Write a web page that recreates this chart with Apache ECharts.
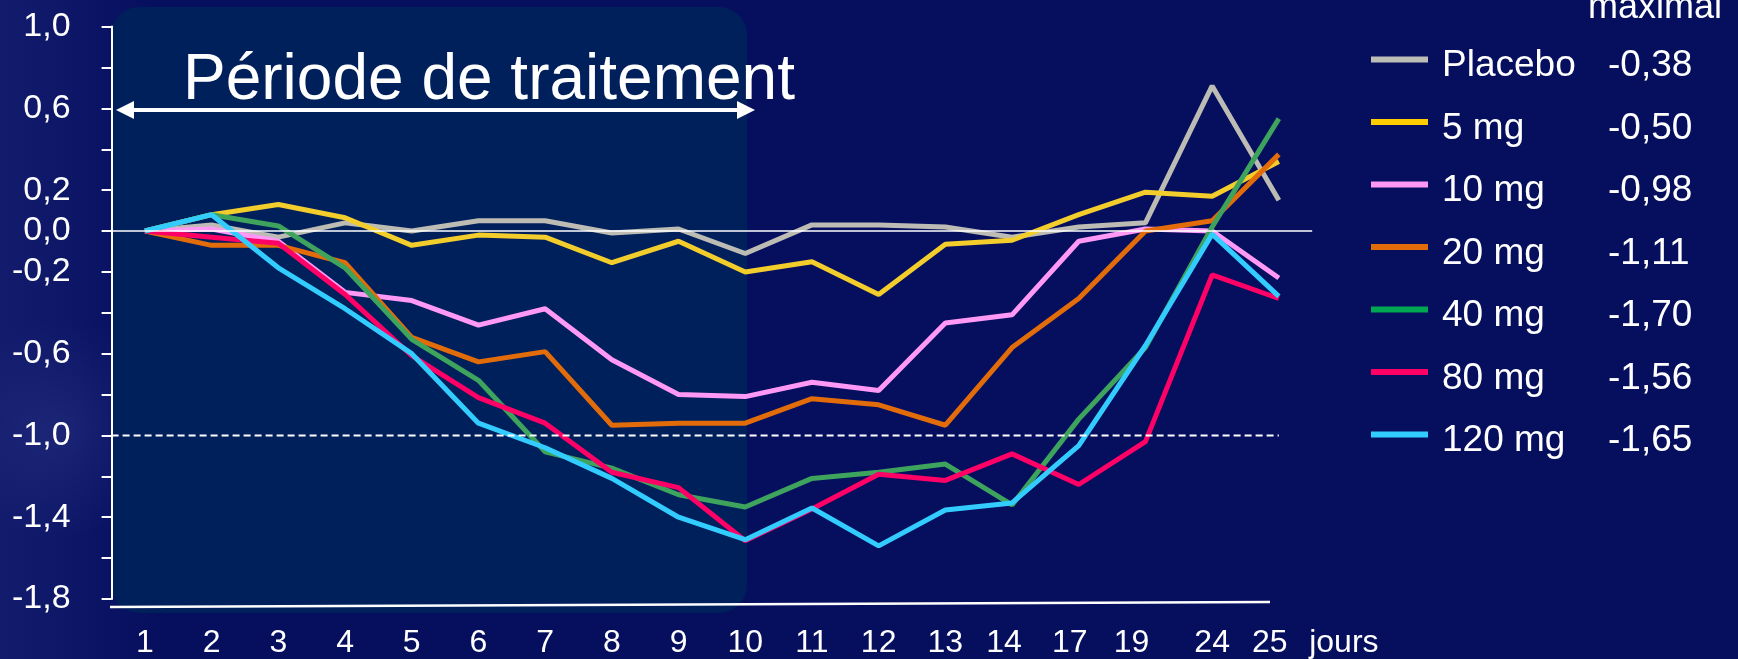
<!DOCTYPE html>
<html>
<head>
<meta charset="utf-8">
<title>Période de traitement</title>
<script src="https://cdn.jsdelivr.net/npm/echarts@6/dist/echarts.min.js"></script>
<style>
  html, body { margin: 0; padding: 0; background: #060f5e; }
  #chart { width: 1738px; height: 659px; }
</style>
</head>
<body>
<div id="chart"></div>
<script>
// jours de mesure (axe des catégories)
const days = ['1', '2', '3', '4', '5', '6', '7', '8', '9', '10', '11', '12', '13', '14', '17', '19', '24', '25'];

const seriesNames = ['Placebo', '5 mg', '10 mg', '20 mg', '40 mg', '80 mg', '120 mg'];
const maxEffect   = ['-0,38', '-0,50', '-0,98', '-1,11', '-1,70', '-1,56', '-1,65'];

const placebo = [0, 0.03, -0.03, 0.04, 0.00, 0.05, 0.05, -0.01, 0.01, -0.11, 0.03, 0.03, 0.02, -0.03, 0.02, 0.04, 0.71, 0.15];
const mg5     = [0, 0.08, 0.13, 0.065, -0.07, -0.02, -0.03, -0.155, -0.05, -0.20, -0.15, -0.31, -0.065, -0.045, 0.08, 0.19, 0.17, 0.34];
const mg10    = [0, 0.01, -0.05, -0.30, -0.34, -0.46, -0.38, -0.63, -0.80, -0.81, -0.74, -0.78, -0.45, -0.41, -0.05, 0.01, 0.00, -0.23];
const mg20    = [0, -0.07, -0.07, -0.155, -0.52, -0.64, -0.59, -0.95, -0.94, -0.94, -0.82, -0.85, -0.95, -0.57, -0.33, 0.00, 0.05, 0.375];
const mg40    = [0, 0.08, 0.025, -0.18, -0.53, -0.73, -1.08, -1.16, -1.29, -1.35, -1.21, -1.18, -1.14, -1.34, -0.92, -0.57, 0.02, 0.55];
const mg80    = [0, -0.03, -0.06, -0.31, -0.61, -0.815, -0.94, -1.18, -1.255, -1.515, -1.36, -1.19, -1.22, -1.09, -1.24, -1.03, -0.215, -0.33];
const mg120   = [0, 0.08, -0.18, -0.38, -0.60, -0.94, -1.06, -1.21, -1.40, -1.51, -1.355, -1.54, -1.365, -1.33, -1.05, -0.56, -0.015, -0.32];

// graduations affichées sur l'axe Y
const yLabels = [1.0, 0.6, 0.2, 0.0, -0.2, -0.6, -1.0, -1.4, -1.8];

const values = [placebo, mg5, mg10, mg20, mg40, mg80, mg120];
const lineColors   = ['#bcbcb4', '#f2cd2b', '#ff99f5', '#e36c0a', '#3da35d', '#ff0066', '#33ccff'];
const legendColors = ['#bdbdb7', '#ffcc00', '#ff99f5', '#e36c0a', '#00a651', '#ff0066', '#33ccff'];

// petit décalage (px) de certaines étiquettes de l'axe X, comme sur la diapo
const labelShift = { '14': 8, '17': 9, '19': 14, '25': 9 };

const font = '"Liberation Sans", Arial, sans-serif';
const chart = echarts.init(document.getElementById('chart'));

const grid = { left: 111.6, top: 26.6, width: 1200.6, height: 573 };

const xRich = {};
Object.keys(labelShift).forEach(k => {
  xRich['s' + k] = { color: '#fff', fontSize: 32, fontFamily: font, padding: [0, labelShift[k] * 2, 0, 0] };
});

chart.setOption({
  animation: false,
  backgroundColor: '#060f5e',
  grid: grid,
  legend: {
    orient: 'vertical',
    left: 1366,
    top: 36,
    icon: 'rect',
    itemWidth: 57,
    itemHeight: 6,
    itemGap: 19,
    selectedMode: false,
    data: seriesNames.map((n, i) => ({ name: n, itemStyle: { color: legendColors[i] } })),
    formatter: name => `{sp| }{n|${name}}{v|${maxEffect[seriesNames.indexOf(name)]}}`,
    textStyle: {
      color: '#fff', fontSize: 37, fontFamily: font,
      rich: {
        sp: { fontSize: 37, fontFamily: font, lineHeight: 50, width: 0 },
        n: { color: '#fff', fontSize: 37, fontFamily: font, lineHeight: 40, verticalAlign: 'bottom', width: 166, padding: [0, 0, 0, 9] },
        v: { color: '#fff', fontSize: 37, fontFamily: font, lineHeight: 40, verticalAlign: 'bottom' }
      }
    }
  },
  xAxis: {
    type: 'category',
    data: days,
    boundaryGap: true,
    axisLine: { show: false, onZero: false },
    axisTick: { show: false },
    axisLabel: {
      color: '#fff', fontSize: 32, fontFamily: font, margin: 28, interval: 0,
      formatter: v => labelShift[v] ? `{s${v}|${v}}` : v,
      rich: xRich
    },
    name: 'jours',
    nameLocation: 'end',
    nameGap: -3,
    nameTextStyle: { color: '#fff', fontSize: 32, fontFamily: font, align: 'left', verticalAlign: 'top', padding: [28, 0, 0, 0] }
  },
  yAxis: {
    type: 'value',
    min: -1.8,
    max: 1.0,
    interval: 0.2,
    axisLine: { show: true, lineStyle: { color: '#fff', width: 2 } },
    axisTick: { show: true, length: 10, lineStyle: { color: '#fff', width: 2 } },
    splitLine: { show: false },
    axisLabel: {
      color: '#fff', fontSize: 34, fontFamily: font, margin: 41,
      formatter: v => {
        const r = Math.round(v * 10) / 10;
        return yLabels.some(l => Math.abs(l - r) < 1e-6) ? r.toFixed(1).replace('.', ',') : '';
      }
    }
  },
  series: seriesNames.map((name, i) => ({
    name: name,
    type: 'line',
    data: values[i],
    symbol: 'none',
    lineStyle: { width: 5, color: lineColors[i] },
    itemStyle: { color: lineColors[i] },
    markLine: i === 0 ? {
      silent: true,
      symbol: 'none',
      label: { show: false },
      data: [{ yAxis: 0, lineStyle: { color: '#fff', width: 1.5, type: 'solid' } }]
    } : undefined
  }))
});

// décor : zone de traitement, flèche, ligne de base, texte
const yMinus1 = chart.convertToPixel({ yAxisIndex: 0 }, -1);
const xLast = chart.convertToPixel({ xAxisIndex: 0 }, days[days.length - 1]);

chart.setOption({
  graphic: [
    {
      type: 'rect', z: -20, silent: true,
      shape: { x: 0, y: 0, width: 160, height: 659 },
      style: {
        fill: new echarts.graphic.LinearGradient(0, 0, 1, 0, [
          { offset: 0, color: 'rgba(60,70,160,0.22)' },
          { offset: 0.5, color: 'rgba(60,70,160,0.12)' },
          { offset: 1, color: 'rgba(60,70,160,0)' }
        ])
      }
    },
    {
      type: 'circle', z: -19, silent: true,
      shape: { cx: 60, cy: 430, r: 110 },
      style: {
        fill: new echarts.graphic.RadialGradient(0.5, 0.5, 0.5, [
          { offset: 0, color: 'rgba(90,100,180,0.18)' },
          { offset: 1, color: 'rgba(90,100,180,0)' }
        ])
      }
    },
    {
      type: 'rect', z: -10, silent: true,
      shape: { x: 111, y: 7, width: 636, height: 606, r: 28 },
      style: { fill: '#00205c' }
    },
    {
      type: 'line', z: 5, silent: true,
      shape: { x1: grid.left, y1: yMinus1, x2: xLast, y2: yMinus1 },
      style: { stroke: '#fff', lineWidth: 2, lineDash: [7, 4] }
    },
    {
      type: 'line', z: 5, silent: true,
      shape: { x1: 110, y1: 607, x2: 1270, y2: 602 },
      style: { stroke: '#fff', lineWidth: 2.5 }
    },
    {
      type: 'line', z: 5, silent: true,
      shape: { x1: 128, y1: 110, x2: 742, y2: 110 },
      style: { stroke: '#fff', lineWidth: 4 }
    },
    {
      type: 'polygon', z: 5, silent: true,
      shape: { points: [[116, 110], [134, 101], [134, 119]] },
      style: { fill: '#fff' }
    },
    {
      type: 'polygon', z: 5, silent: true,
      shape: { points: [[755, 110], [737, 101], [737, 119]] },
      style: { fill: '#fff' }
    },
    {
      type: 'text', z: 6, silent: true,
      style: { x: 183, y: 81, text: 'Période de traitement', font: '64px ' + font, fill: '#fff', verticalAlign: 'middle' }
    },
    {
      type: 'text', z: 6, silent: true,
      style: { x: 1588, y: 8, text: 'maximal', font: '36px ' + font, fill: '#fff', verticalAlign: 'middle' }
    }
  ]
});
</script>
</body>
</html>
